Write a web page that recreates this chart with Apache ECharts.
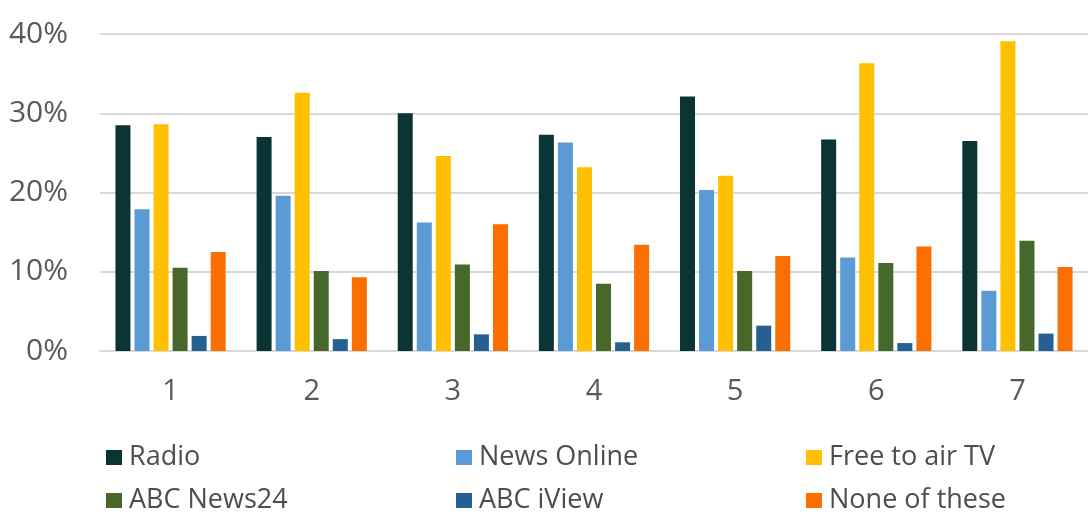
<!DOCTYPE html>
<html>
<head>
<meta charset="utf-8">
<script src="https://cdn.jsdelivr.net/npm/echarts@6/dist/echarts.min.js"></script>
<style>
html,body{margin:0;padding:0;background:#fff;}
#chart{width:1088px;height:529px;}
</style>
</head>
<body>
<div id="chart"></div>
<script>
const categories = ['1', '2', '3', '4', '5', '6', '7'];
const seriesNames = ['Radio', 'News Online', 'Free to air TV', 'ABC News24', 'ABC iView', 'None of these'];
const radio = [28.5, 27.0, 30.0, 27.3, 32.1, 26.7, 26.5];
const newsOnline = [17.9, 19.6, 16.2, 26.3, 20.3, 11.8, 7.6];
const freeToAirTV = [28.6, 32.6, 24.6, 23.2, 22.1, 36.3, 39.1];
const abcNews24 = [10.5, 10.1, 10.9, 8.5, 10.1, 11.1, 13.9];
const abcIView = [1.9, 1.5, 2.1, 1.1, 3.2, 1.0, 2.2];
const noneOfThese = [12.5, 9.3, 16.0, 13.4, 12.0, 13.2, 10.6];
const yTicks = [0, 10, 20, 30, 40];

const values = [radio, newsOnline, freeToAirTV, abcNews24, abcIView, noneOfThese];
const colors = ['#0b3535', '#5b9bd5', '#ffc000', '#46692b', '#265f92', '#fb6f00'];
const FONT = '"Open Sans", "DejaVu Sans", sans-serif';

const legendPos = [
  {left: 106, top: 444}, {left: 456, top: 444}, {left: 806, top: 444},
  {left: 106, top: 487}, {left: 456, top: 487}, {left: 806, top: 487}
];

const chart = echarts.init(document.getElementById('chart'), null, {renderer: 'canvas'});
chart.setOption({
  animation: false,
  backgroundColor: '#ffffff',
  textStyle: {fontFamily: FONT},
  legend: seriesNames.map((n, i) => ({
    data: [n],
    left: legendPos[i].left,
    top: legendPos[i].top,
    icon: 'rect',
    itemWidth: 16,
    itemHeight: 15,
    itemGap: 0,
    padding: 0,
    textStyle: {fontSize: 27, color: '#4d4d4d', fontFamily: FONT, padding: [0, 0, 0, 2]},
    selectedMode: false
  })),
  grid: {left: 100, right: 0, top: 34, bottom: 178, containLabel: false},
  xAxis: {
    type: 'category',
    data: categories,
    axisLine: {show: true, lineStyle: {color: '#d9d9d9', width: 2}},
    axisTick: {show: false},
    axisLabel: {fontSize: 29, color: '#595959', margin: 26, fontFamily: FONT}
  },
  yAxis: {
    type: 'value',
    min: yTicks[0],
    max: yTicks[yTicks.length - 1],
    interval: 10,
    axisLine: {show: false},
    axisTick: {show: false},
    splitLine: {lineStyle: {color: '#d9d9d9', width: 2}},
    axisLabel: {fontSize: 30, color: '#595959', margin: 32, fontFamily: FONT, formatter: v => v + '%'}
  },
  series: seriesNames.map((n, i) => ({
    name: n,
    type: 'bar',
    data: values[i],
    barWidth: 15,
    barGap: '27%',
    itemStyle: {color: colors[i]}
  }))
});
</script>
</body>
</html>
